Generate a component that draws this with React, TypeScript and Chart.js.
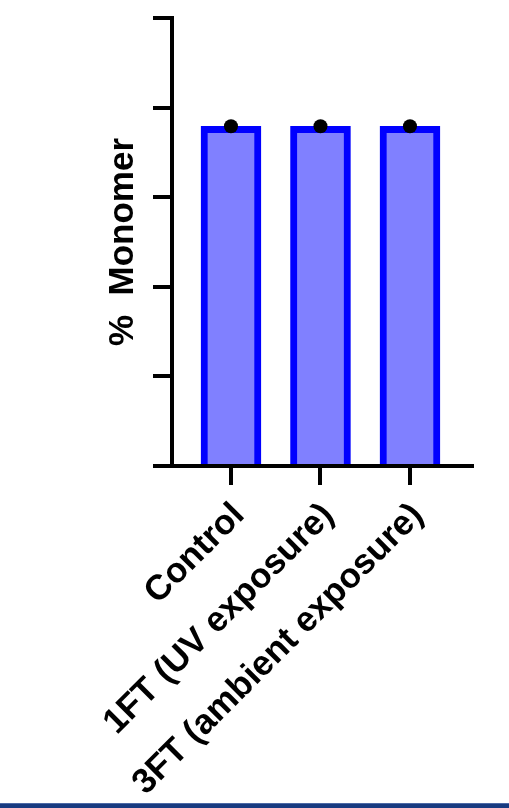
import React, { useEffect, useRef } from "react";
import { Chart, registerables } from "chart.js";

Chart.register(...registerables);

// Groups along the x axis
const categories = ["Control", "1FT (UV exposure)", "3FT (ambient exposure)"];
// Mean % monomer per group (bar heights)
const meanValues = [94.8, 94.8, 94.8];
// Individual measurements plotted over the bars
const replicateValues = [94.8, 94.8, 94.8];
// Y axis range and tick step
const yMin = 0;
const yMax = 125;
const yStep = 25;

const FONT_FAMILY = "'Liberation Sans', Arial, Helvetica, sans-serif";
const FONT_SIZE = 35;

export default function App() {
  const canvasRef = useRef<HTMLCanvasElement | null>(null);

  useEffect(() => {
    const canvas = canvasRef.current;
    if (!canvas) return;

    const chart = new Chart(canvas, {
      type: "bar",
      data: {
        datasets: [
          {
            type: "scatter",
            data: replicateValues.map((v, i) => ({ x: i, y: v })),
            pointRadius: 7,
            pointBackgroundColor: "#000000",
            pointBorderWidth: 0,
            order: 0,
          } as any,
          {
            type: "bar",
            data: meanValues.map((v, i) => ({ x: i, y: v })),
            backgroundColor: "#8080ff",
            borderColor: "#0000ff",
            borderWidth: 7,
            borderSkipped: "start",
            barThickness: 60,
            order: 1,
          },
        ],
      },
      options: {
        responsive: false,
        animation: false,
        events: [],
        layout: { padding: { left: 100, right: 37, top: 18, bottom: 0 } },
        plugins: {
          legend: { display: false },
          tooltip: { enabled: false },
        },
        scales: {
          x: {
            type: "linear",
            offset: false,
            min: -0.659,
            max: 2.693,
            afterBuildTicks: (axis: any) => {
              axis.ticks = categories.map((_, i) => ({ value: i }));
            },
            afterFit: (scale: any) => {
              scale.height = 342;
            },
            grid: {
              display: true,
              offset: false,
              drawOnChartArea: false,
              drawTicks: true,
              tickLength: 19,
              lineWidth: 4,
              tickWidth: 4,
              color: "#000000",
              tickColor: "#000000",
            },
            border: { display: true, color: "#000000", width: 4, z: 1 },
            ticks: {
              autoSkip: false,
              minRotation: 45,
              maxRotation: 45,
              padding: 10,
              labelOffset: 8,
              color: "#000000",
              font: { family: FONT_FAMILY, size: FONT_SIZE, weight: "bold" },
              callback: (value: any) => categories[value as number] ?? "",
            },
          },
          y: {
            type: "linear",
            min: yMin,
            max: yMax,
            afterFit: (scale: any) => {
              scale.width = 72;
            },
            grid: {
              display: true,
              drawOnChartArea: false,
              drawTicks: true,
              tickLength: 19,
              lineWidth: 4,
              tickWidth: 4,
              color: "#000000",
              tickColor: "#000000",
            },
            border: { display: true, color: "#000000", width: 4, z: 1 },
            ticks: { display: false, stepSize: yStep },
            title: {
              display: true,
              text: "%  Monomer",
              color: "#000000",
              padding: { top: 2, bottom: 0 },
              font: { family: FONT_FAMILY, size: FONT_SIZE, weight: "bold" },
            },
          },
        },
      },
    });

    return () => chart.destroy();
  }, []);

  return (
    <div
      style={{
        position: "fixed",
        left: 0,
        top: 0,
        width: 509,
        height: 808,
        background: "#ffffff",
      }}
    >
      <canvas ref={canvasRef} width={509} height={808} style={{ display: "block" }} />
      <div
        style={{
          position: "absolute",
          left: 0,
          top: 803,
          width: 509,
          height: 5,
          background: "#173a80",
          borderTop: "1px solid #4d6aa6",
          boxSizing: "border-box",
        }}
      />
    </div>
  );
}
